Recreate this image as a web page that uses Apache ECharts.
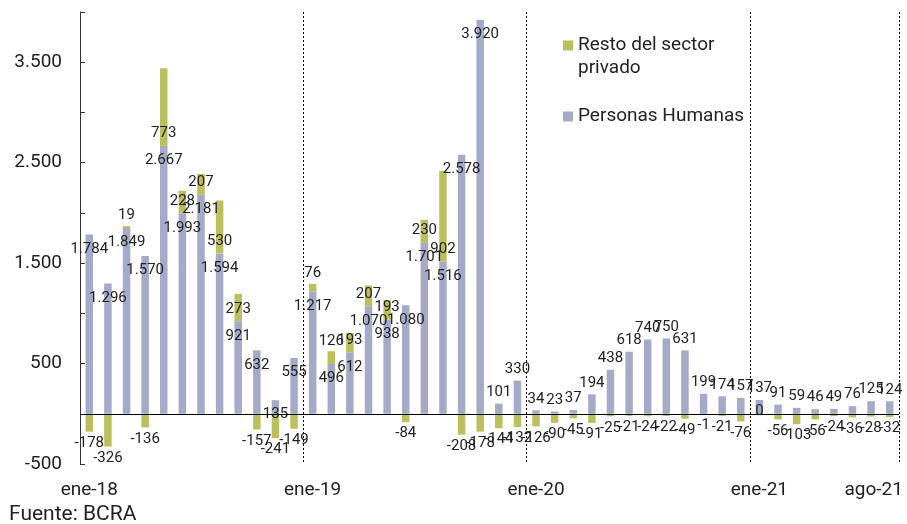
<!DOCTYPE html>
<html>
<head>
<meta charset="utf-8">
<script src="https://cdn.jsdelivr.net/npm/echarts@6/dist/echarts.min.js"></script>
<style>
html,body{margin:0;padding:0;background:#fff;}
#chart{width:907px;height:524px;}
</style>
</head>
<body>
<div id="chart"></div>
<script>
const months = [
  'ene-18','feb-18','mar-18','abr-18','may-18','jun-18','jul-18','ago-18','sep-18','oct-18','nov-18','dic-18',
  'ene-19','feb-19','mar-19','abr-19','may-19','jun-19','jul-19','ago-19','sep-19','oct-19','nov-19','dic-19',
  'ene-20','feb-20','mar-20','abr-20','may-20','jun-20','jul-20','ago-20','sep-20','oct-20','nov-20','dic-20',
  'ene-21','feb-21','mar-21','abr-21','may-21','jun-21','jul-21','ago-21'
];
const personasHumanas = [
  1784,1296,1849,1570,2667,1993,2181,1594,921,632,135,555,
  1217,496,612,1070,938,1080,1701,1516,2578,3920,101,330,
  34,23,37,194,438,618,740,750,631,199,174,157,
  137,91,59,46,49,76,125,124
];
const restoSector = [
  -178,-326,19,-136,773,228,207,530,273,-157,-241,-149,
  76,126,193,207,193,-84,230,902,-208,-178,-144,-132,
  -126,-90,-45,-91,-25,-21,-24,-22,-49,-1,-21,-76,
  0,-56,-103,-56,-24,-36,-28,-32
];
const shownMonthLabels = ['ene-18','ene-19','ene-20','ene-21','ago-21'];
const yearBoundaries = ['ene-19','ene-20','ene-21'];
const yTickLabels = [-500, 500, 1500, 2500, 3500];

const NAME_PH = 'Personas Humanas';
const NAME_R = 'Resto del sector privado';

function fmt(v) {
  const s = String(Math.abs(v)).replace(/\B(?=(\d{3})+(?!\d))/g, '.');
  return (v < 0 ? '-' : '') + s;
}

const boundaryIdx = yearBoundaries.map(m => months.indexOf(m));
const lastIdx = months.length - 1;

const phData = personasHumanas.map((v, i) => ({
  value: v,
  label: { position: i >= 22 ? 'top' : 'insideTop', distance: i >= 22 ? 4 : 7 }
}));
const rData = restoSector.map((v) => ({
  value: v,
  label: v <= 0 ? { position: 'bottom', distance: 4 }
       : (v > 150 ? { position: 'insideBottom', distance: 5 } : { position: 'top', distance: 3 })
}));

const labelStyle = {
  show: true,
  color: '#222',
  fontSize: 15,
  fontFamily: 'Roboto',
  formatter: p => fmt(p.value)
};

const chart = echarts.init(document.getElementById('chart'), null, { renderer: 'canvas' });
chart.setOption({
  backgroundColor: '#fff',
  animation: false,
  textStyle: { fontFamily: 'Roboto' },
  title: {
    text: 'Fuente: BCRA',
    left: 9,
    top: 504,
    padding: 0,
    textStyle: { fontSize: 21, fontWeight: 'normal', color: '#222', fontFamily: 'Roboto' }
  },
  legend: {
    orient: 'vertical',
    left: 563,
    top: 11,
    padding: 0,
    itemWidth: 10,
    itemHeight: 10,
    itemGap: 25,
    icon: 'rect',
    data: [NAME_R, NAME_PH],
    formatter: n => n === NAME_R ? ' \nResto del sector\nprivado' : n,
    textStyle: { fontSize: 19, color: '#222', lineHeight: 23, fontFamily: 'Roboto' }
  },
  grid: { left: 80, right: 8, top: 12, bottom: 60, containLabel: false },
  xAxis: {
    type: 'category',
    data: months,
    axisLine: { show: false },
    axisTick: { show: false },
    axisLabel: {
      interval: (i, v) => shownMonthLabels.indexOf(v) >= 0,
      fontSize: 19,
      color: '#222',
      margin: 17,
      fontFamily: 'Roboto',
      formatter: (v, i) => i === lastIdx ? '{r|' + v + '}' : v,
      rich: { r: { fontSize: 19, color: '#222', padding: [0, 32, 0, 0], fontFamily: 'Roboto' } }
    },
    splitLine: {
      show: true,
      interval: (i) => boundaryIdx.indexOf(i) >= 0,
      lineStyle: { color: '#000', type: [2, 2], width: 1 }
    }
  },
  yAxis: {
    type: 'value',
    min: -500,
    max: 4000,
    interval: 500,
    axisLine: { show: true, lineStyle: { color: '#333' } },
    axisTick: { show: true, inside: true, length: 5, lineStyle: { color: '#333' } },
    splitLine: { show: false },
    axisLabel: {
      fontSize: 19,
      color: '#222',
      margin: 18,
      fontFamily: 'Roboto',
      formatter: v => yTickLabels.indexOf(v) >= 0 ? fmt(v) : ''
    }
  },
  series: [
    {
      name: NAME_PH,
      type: 'bar',
      stack: 'total',
      barWidth: 7.5,
      itemStyle: { color: '#a5aac8' },
      label: labelStyle,
      data: phData,
      markLine: {
        silent: true,
        symbol: 'none',
        label: { show: false },
        lineStyle: { color: '#000', type: 'solid', width: 1.2 },
        data: [{ yAxis: 0 }]
      }
    },
    {
      name: NAME_R,
      type: 'bar',
      stack: 'total',
      barWidth: 7.5,
      itemStyle: { color: '#bcbf5e' },
      label: labelStyle,
      data: rData
    }
  ]
});
</script>
</body>
</html>
